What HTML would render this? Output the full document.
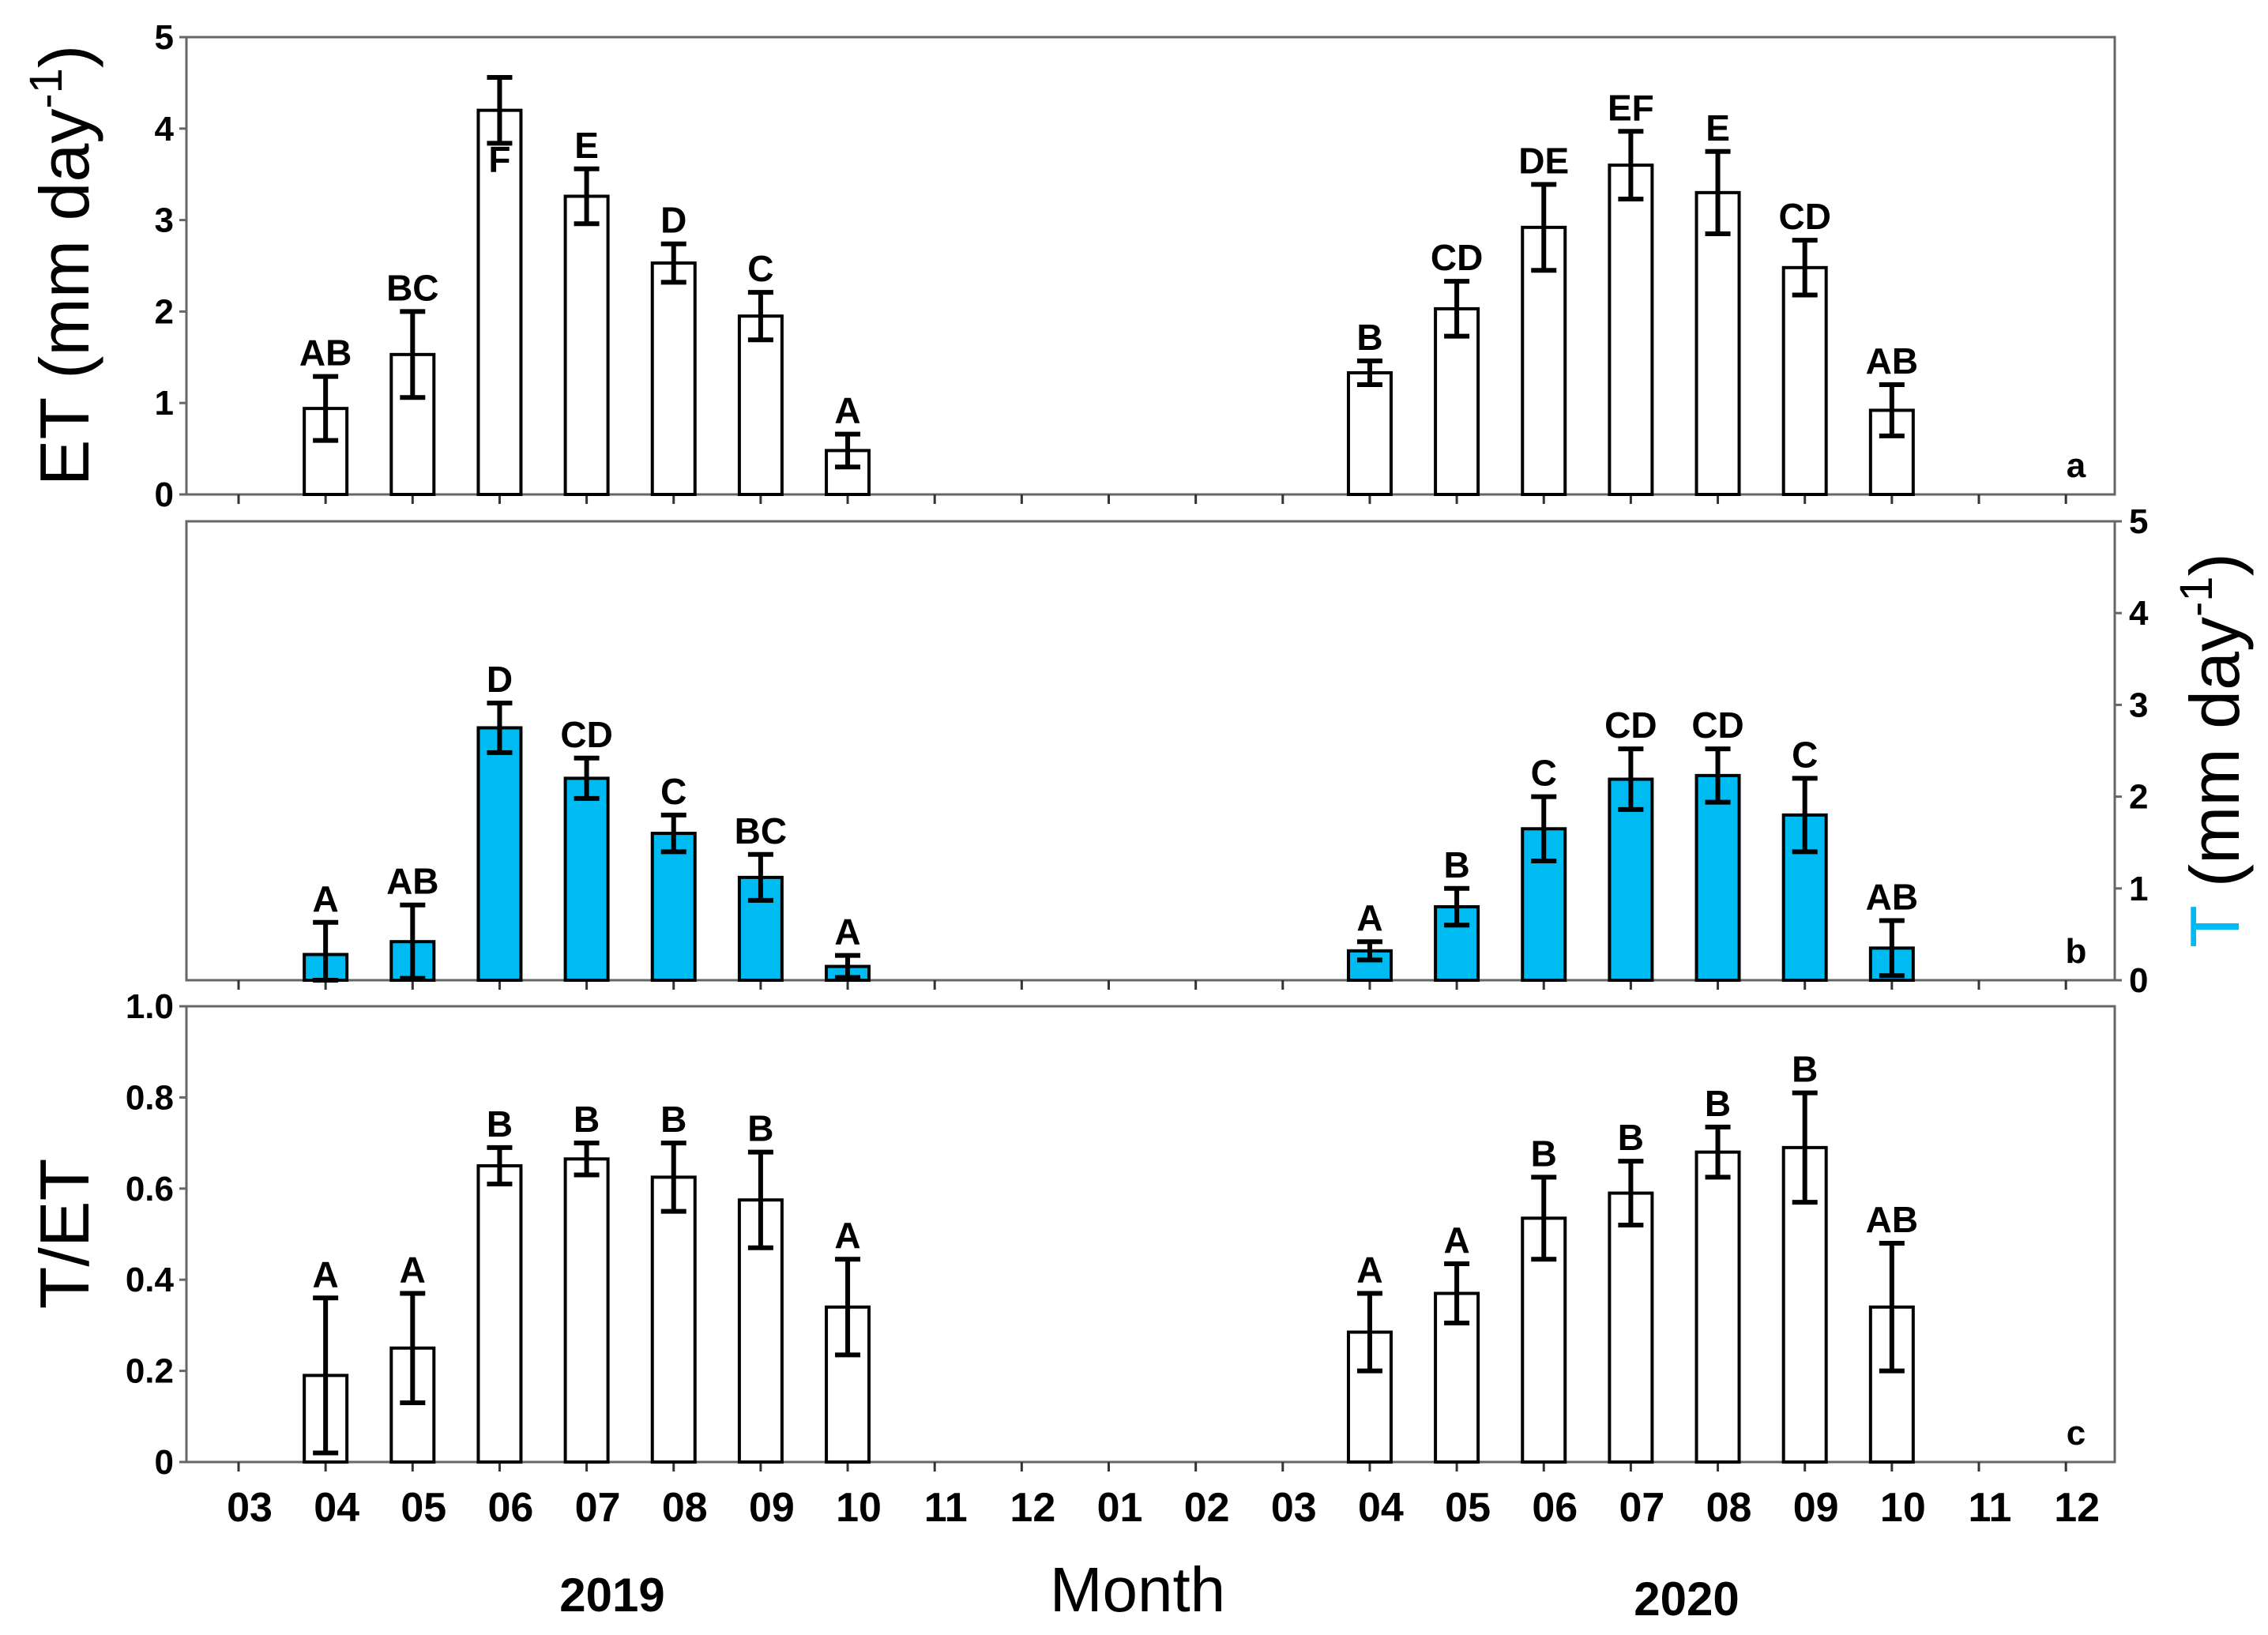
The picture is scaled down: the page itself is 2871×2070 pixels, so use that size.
<!DOCTYPE html>
<html><head><meta charset="utf-8"><style>
html,body{margin:0;padding:0;background:#fff;}
svg{display:block;font-family:"Liberation Sans",Arial,sans-serif;}
</style></head><body>
<svg id="chart" width="2871" height="2070" viewBox="0 0 2871 2070" xmlns="http://www.w3.org/2000/svg"></svg>
<script>
const monthLabels = ["03","04","05","06","07","08","09","10","11","12","01","02","03","04","05","06","07","08","09","10","11","12"];
const barIdx = [1,2,3,4,5,6,7,13,14,15,16,17,18,19];
const etVals = [0.94,1.53,4.2,3.26,2.53,1.95,0.48,1.33,2.03,2.92,3.6,3.3,2.48,0.92];
const etErr  = [0.35,0.47,0.36,0.3,0.21,0.26,0.18,0.13,0.3,0.47,0.37,0.45,0.3,0.28];
const etLbl  = ["AB","BC","F","E","D","C","A","B","CD","DE","EF","E","CD","AB"];
const tVals = [0.28,0.42,2.75,2.2,1.6,1.12,0.15,0.32,0.8,1.65,2.19,2.23,1.8,0.35];
const tErr  = [0.35,0.4,0.27,0.22,0.2,0.25,0.12,0.1,0.2,0.35,0.33,0.29,0.4,0.3];
const tLbl  = ["A","AB","D","CD","C","BC","A","A","B","C","CD","CD","C","AB"];
const rVals = [0.19,0.25,0.65,0.665,0.625,0.575,0.34,0.285,0.37,0.535,0.59,0.68,0.69,0.34];
const rErr  = [0.17,0.12,0.04,0.035,0.075,0.105,0.105,0.085,0.065,0.09,0.07,0.055,0.12,0.14];
const rLbl  = ["A","A","B","B","B","B","A","A","A","B","B","B","B","AB"];
const etTicks = [0,1,2,3,4,5];
const tTicks = [0,1,2,3,4,5];
const rTicks = [0,0.2,0.4,0.6,0.8,1.0];
const rTickLbl = ["0","0.2","0.4","0.6","0.8","1.0"];

const svg = document.getElementById('chart');
const NS = "http://www.w3.org/2000/svg";
function mk(tag, attrs, parent){const e=document.createElementNS(NS,tag);for(const k in attrs)e.setAttribute(k,attrs[k]);(parent||svg).appendChild(e);return e;}
const X0=236, X1=2677;
const xPos = i => 302 + i*110.15;
const BW = 54;

function panel(name, top, bottom, max, vals, errs, lbls, fill, ticks, tickLbls, rightAxis, letter, showMonths){
  const g = mk('g',{});
  
  
  const y = v => bottom - v/max*(bottom-top);
  const fr = mk('rect',{x:X0,y:top,width:X1-X0,height:bottom-top,fill:'none',stroke:'#666','stroke-width':3},g);
  
  
  ticks.forEach((t,k)=>{
    const ax = rightAxis? X1 : X0;
    const dir = rightAxis? 1 : -1;
    const tl = mk('line',{x1:ax,x2:ax+dir*9,y1:y(t),y2:y(t),stroke:'#666','stroke-width':3},g);
    
    
    const tx = mk('text',{x:rightAxis? ax+18 : ax-16,y:y(t)+15,'font-size':44,'font-weight':'bold','text-anchor':rightAxis?'start':'end',fill:'#000'},g);
    tx.textContent = tickLbls[k];
    
    
  });
  monthLabels.forEach((m,i)=>{
    const tl = mk('line',{x1:xPos(i),x2:xPos(i),y1:bottom,y2:bottom+12,stroke:'#333','stroke-width':3},g);
    
    
    if(showMonths){
      const tx = mk('text',{x:xPos(i)+14,y:1926,'font-size':52,'font-weight':'bold','text-anchor':'middle',fill:'#000'},g);
      tx.textContent = m;
      
      
    }
  });
  vals.forEach((v,k)=>{
    const cx = xPos(barIdx[k]);
    const b = mk('rect',{x:cx-BW/2,y:y(v),width:BW,height:bottom-y(v),fill:fill,stroke:'#000','stroke-width':4},g);
    
    
    const hi=y(v+errs[k]), lo=y(Math.max(0,v-errs[k]));
    const eb = mk('path',{d:`M${cx},${hi}V${lo}M${cx-16},${hi}H${cx+16}M${cx-16},${lo}H${cx+16}`,stroke:'#000','stroke-width':6,fill:'none'},g);
    
    
    let ly = hi-14;
    if(lbls[k]==='F') ly = y(v)+78;
    const lt = mk('text',{x:cx,y:ly,'font-size':46,'font-weight':'bold','text-anchor':'middle',fill:'#000'},g);
    lt.textContent = lbls[k];
    
    
  });
  const pl = mk('text',{x:2628,y:bottom-22,'font-size':44,'font-weight':'bold','text-anchor':'middle',fill:'#000'},g);
  pl.textContent = letter;
  
  
}

panel('et', 47, 626, 5, etVals, etErr, etLbl, '#fff', etTicks, etTicks.map(String), false, 'a', false);
panel('t', 660, 1241, 5, tVals, tErr, tLbl, '#00bbf2', tTicks, tTicks.map(String), true, 'b', false);
panel('ratio', 1274, 1851, 1, rVals, rErr, rLbl, '#fff', rTicks, rTickLbl, false, 'c', true);

function txt(name, content, attrs){const t=mk('text',attrs);t.textContent=content;return t;}
const yt = mk('text',{transform:'translate(112,336) rotate(-90)','font-size':88,'text-anchor':'middle',fill:'#000'});


yt.innerHTML = 'ET (mm day<tspan dy="-34" font-size="58">-1</tspan><tspan dy="34">)</tspan>';
const rt = mk('text',{transform:'translate(2834,950) rotate(-90)','font-size':88,'text-anchor':'middle',fill:'#000'});


rt.innerHTML = '<tspan fill="#00bbf2">T</tspan> (mm day<tspan dy="-34" font-size="58">-1</tspan><tspan dy="34">)</tspan>';
txt('ratio-y-axis-title','T/ET',{transform:'translate(112,1562) rotate(-90)','font-size':88,'text-anchor':'middle',fill:'#000'});
txt('x-axis-title','Month',{x:1440,y:2040,'font-size':80,'text-anchor':'middle',fill:'#000'});
txt('year-2019-label','2019',{x:775,y:2040,'font-size':60,'font-weight':'bold','text-anchor':'middle',fill:'#000'});
txt('year-2020-label','2020',{x:2135,y:2045,'font-size':60,'font-weight':'bold','text-anchor':'middle',fill:'#000'});
</script>
</body></html>
